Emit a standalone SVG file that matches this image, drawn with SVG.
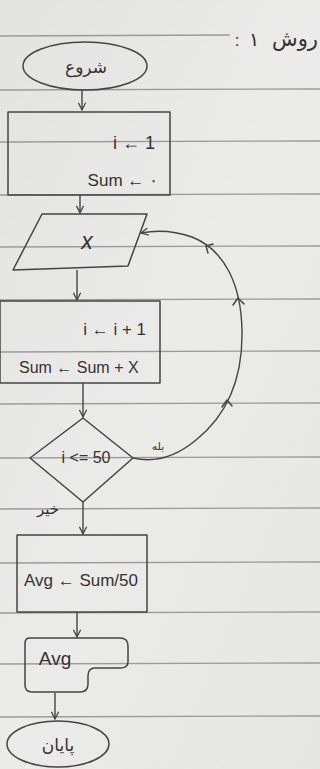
<svg xmlns="http://www.w3.org/2000/svg" width="320" height="769" viewBox="0 0 320 769">
<defs>
<linearGradient id="paper" x1="0" y1="0" x2="1" y2="1">
<stop offset="0" stop-color="#e3e3e1"/>
<stop offset="0.5" stop-color="#ebebe9"/>
<stop offset="1" stop-color="#e6e6e4"/>
</linearGradient>
<marker id="arr" viewBox="0 0 10 10" refX="9" refY="5" markerWidth="9" markerHeight="9" orient="auto" markerUnits="userSpaceOnUse">
<path d="M1,1 L9,5 L1,9" fill="none" stroke="#444" stroke-width="1.4"/>
</marker>
<style>
.rule{stroke:#9a9a9a;stroke-width:1.3;fill:none}
.ink{stroke:#444;stroke-width:1.5;fill:none;stroke-linejoin:round;stroke-linecap:round}
.conn{stroke:#444;stroke-width:1.4;fill:none;marker-end:url(#arr)}
.lat{font-family:"Liberation Sans",Arial,sans-serif;fill:#333}
.fa{font-family:"DejaVu Sans","Noto Sans",sans-serif;fill:#333}
</style>
</defs>
<rect width="320" height="769" fill="url(#paper)"/>
<g id="rules">
<line class="rule" x1="0" y1="36" x2="230" y2="35"/>
<line class="rule" x1="0" y1="90" x2="320" y2="89"/>
<line class="rule" x1="0" y1="142" x2="320" y2="141"/>
<line class="rule" x1="0" y1="195" x2="320" y2="194"/>
<line class="rule" x1="0" y1="247" x2="320" y2="246"/>
<line class="rule" x1="0" y1="300" x2="320" y2="299"/>
<line class="rule" x1="0" y1="352" x2="320" y2="351"/>
<line class="rule" x1="0" y1="404" x2="320" y2="403"/>
<line class="rule" x1="0" y1="458" x2="320" y2="457"/>
<line class="rule" x1="0" y1="509" x2="320" y2="508"/>
<line class="rule" x1="0" y1="563" x2="320" y2="562"/>
<line class="rule" x1="0" y1="613" x2="320" y2="612"/>
<line class="rule" x1="0" y1="664" x2="320" y2="663"/>
<line class="rule" x1="0" y1="717" x2="320" y2="716"/>
</g>
<g id="title">
<text class="fa" x="318" y="46" font-size="21" text-anchor="end">روش</text>
<text class="fa" x="254" y="46" font-size="19" text-anchor="middle">۱</text>
<text class="lat" x="237" y="46" font-size="17" text-anchor="middle">:</text>
</g>
<g id="connectors">
<path class="conn" d="M82,90 L82,110"/>
<path class="conn" d="M80,195 L80,213"/>
<path class="conn" d="M77,270 L77,300"/>
<path class="conn" d="M83,383 L83,417"/>
<path class="conn" d="M83,502 L83,534"/>
<path class="conn" d="M77,612 L77,637"/>
<path class="conn" d="M55,693 L55,719"/>
<path class="conn" d="M133,458 C150,462 172,460 196,440 C226,416 243,380 242,330 C241,285 225,250 192,237 C172,230 156,230 141,233"/>
<path class="ink" d="M222,407 L227,400 L232,406"/>
<path class="ink" d="M233,305 L238,298 L244,304"/>
<path class="ink" d="M213,244 L206,246 L208,253"/>
<text class="fa" x="158" y="450" font-size="11" text-anchor="middle">بله</text>
<text class="fa" x="48" y="514" font-size="15" text-anchor="middle">خیر</text>
</g>
<g id="start">
<ellipse class="ink" cx="85" cy="66" rx="62" ry="24"/>
<text class="fa" x="86" y="73" font-size="17" text-anchor="middle">شروع</text>
</g>
<g id="init">
<rect class="ink" x="8" y="112" width="162" height="83"/>
<text class="lat" x="155" y="149" font-size="18" text-anchor="end">i ← 1</text>
<text class="lat" x="158" y="186" font-size="17" text-anchor="end">Sum ← ۰</text>
</g>
<g id="input">
<path class="ink" d="M42,214 L147,214 L128,266 L13,270 Z"/>
<text class="lat" x="87" y="249" font-size="23" text-anchor="middle" font-style="italic">x</text>
</g>
<g id="process">
<rect class="ink" x="0" y="301" width="160" height="82"/>
<text class="lat" x="146" y="335" font-size="17" text-anchor="end">i ← i + 1</text>
<text class="lat" x="19" y="373" font-size="16">Sum ← Sum + X</text>
</g>
<g id="decision">
<path class="ink" d="M83,418 L133,458 L83,502 L30,458 Z"/>
<text class="lat" x="86" y="463" font-size="16" text-anchor="middle">i &lt;= 50</text>
</g>
<g id="average">
<rect class="ink" x="17" y="535" width="130" height="77"/>
<text class="lat" x="81" y="586" font-size="17" text-anchor="middle">Avg ← Sum/50</text>
</g>
<g id="output">
<path class="ink" d="M30,638 L120,638 Q128,638 128,646 L128,662 Q128,668 120,668 L95,668 Q88,668 88,676 L88,684 Q88,692 80,692 L32,692 Q25,692 25,685 L25,643 Q25,638 30,638 Z"/>
<text class="lat" x="55" y="665" font-size="19" text-anchor="middle">Avg</text>
</g>
<g id="end">
<ellipse class="ink" cx="58" cy="744" rx="51" ry="23"/>
<text class="fa" x="58" y="751" font-size="17" text-anchor="middle">پایان</text>
</g>
</svg>
